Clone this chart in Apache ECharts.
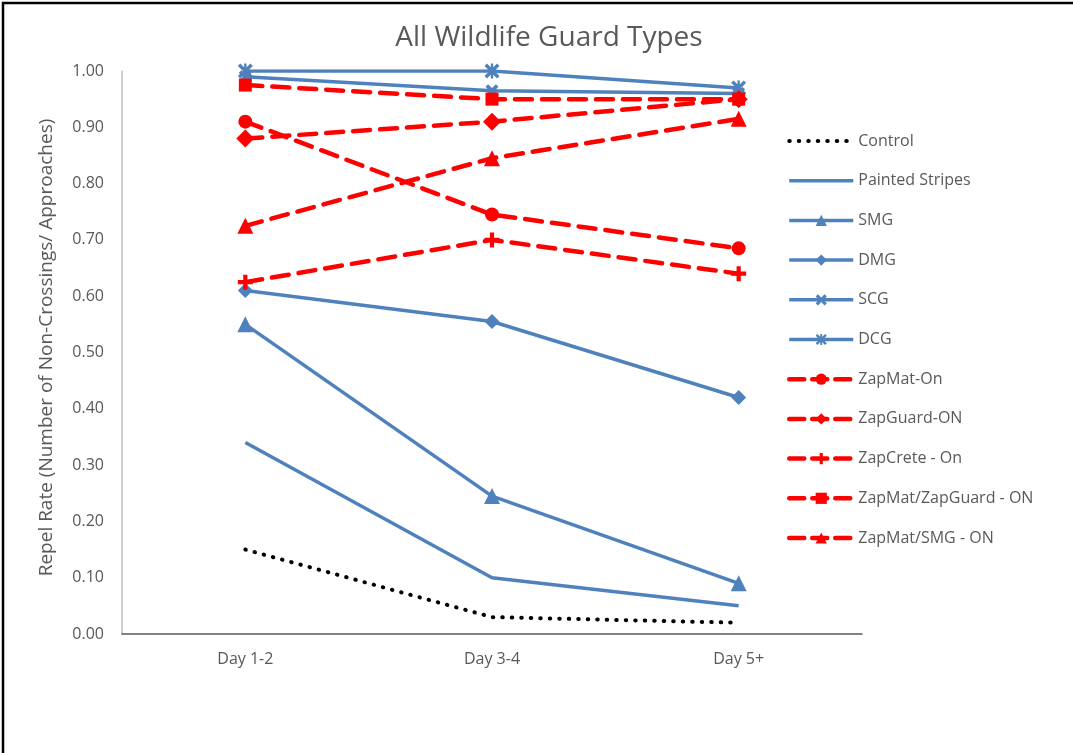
<!DOCTYPE html>
<html>
<head>
<meta charset="utf-8">
<script src="https://cdn.jsdelivr.net/npm/echarts@6/dist/echarts.min.js"></script>
<style>
  html, body { margin: 0; padding: 0; background: #fff; }
  #chart { width: 1073px; height: 753px; }
</style>
</head>
<body>
<div id="chart"></div>
<script>
// Observation periods
const days = ['Day 1-2', 'Day 3-4', 'Day 5+'];

// Repel rate per guard type
const control        = [0.15, 0.03, 0.02];
const paintedStripes = [0.34, 0.10, 0.05];
const smg            = [0.55, 0.245, 0.09];
const dmg            = [0.61, 0.555, 0.42];
const scg            = [0.99, 0.965, 0.96];
const dcg            = [1.00, 1.00, 0.97];
const zapMatOn       = [0.91, 0.745, 0.685];
const zapGuardOn     = [0.88, 0.91, 0.95];
const zapCreteOn     = [0.625, 0.70, 0.64];
const zapMatGuardOn  = [0.975, 0.95, 0.95];
const zapMatSmgOn    = [0.725, 0.845, 0.915];

const yTicks = ['0.00', '0.10', '0.20', '0.30', '0.40', '0.50', '0.60', '0.70', '0.80', '0.90', '1.00'];

const BLUE = '#4f81bd';
const RED = '#ff0000';
const GRAY_TEXT = '#595959';
const FONT = '"Open Sans", "Liberation Sans", sans-serif';

const PLUS = 'path://M3.6,0H6.4V3.6H10V6.4H6.4V10H3.6V6.4H0V3.6H3.6Z';
const XMARK = 'path://M0,2L2,0L5,3L8,0L10,2L7,5L10,8L8,10L5,7L2,10L0,8L3,5Z';
const STAR = 'path://M0,1.6L1.6,0L5,3.4L8.4,0L10,1.6L6.6,5L10,8.4L8.4,10L5,6.6L1.6,10L0,8.4L3.4,5ZM4.2,0H5.8V10H4.2Z';

function blueSeries(name, data, symbol, size) {
  return {
    name, type: 'line', data,
    symbol: symbol || 'none',
    symbolSize: size || 0,
    showSymbol: !!symbol,
    lineStyle: { color: BLUE, width: 3.5 },
    itemStyle: { color: BLUE },
    emphasis: { disabled: true }
  };
}

function redSeries(name, data, symbol, size) {
  return {
    name, type: 'line', data,
    symbol, symbolSize: size,
    lineStyle: { color: RED, width: 4.5, type: [17, 10], cap: 'round' },
    itemStyle: { color: RED },
    emphasis: { disabled: true }
  };
}

const blueKey = (name) => ({ name, lineStyle: { width: 3.5, color: BLUE } });
const redKey = (name) => ({ name, lineStyle: { width: 4.5, color: RED, type: [15, 8], cap: 'round' } });

const chart = echarts.init(document.getElementById('chart'), null, { renderer: 'canvas' });

chart.setOption({
  backgroundColor: '#fff',
  animation: false,
  title: {
    text: 'All Wildlife Guard Types',
    left: 544, top: 19, textAlign: 'center',
    textStyle: { color: GRAY_TEXT, fontSize: 28, fontWeight: 'normal', fontFamily: FONT }
  },
  graphic: [{
    type: 'rect', silent: true,
    shape: { x: 3, y: 3, width: 1200, height: 900 },
    style: { fill: 'none', stroke: '#000', lineWidth: 2.5 }
  }],
  legend: {
    orient: 'vertical',
    left: 787, top: 133, padding: 0,
    itemWidth: 64, itemHeight: 14, itemGap: 23.7,
    textStyle: { color: GRAY_TEXT, fontSize: 16, fontFamily: FONT },
    data: [
      { name: 'Control', itemStyle: { opacity: 0 },
        lineStyle: { width: 4, color: '#000', type: [0.5, 9], cap: 'round' } },
      { name: 'Painted Stripes', itemStyle: { opacity: 0 }, lineStyle: { width: 3.5, color: BLUE } },
      blueKey('SMG'), blueKey('DMG'), blueKey('SCG'), blueKey('DCG'),
      redKey('ZapMat-On'), redKey('ZapGuard-ON'), redKey('ZapCrete - On'),
      redKey('ZapMat/ZapGuard - ON'), redKey('ZapMat/SMG - ON')
    ]
  },
  grid: { left: 122, right: 211, top: 71, bottom: 119, containLabel: false },
  xAxis: {
    type: 'category', data: days, boundaryGap: true,
    axisLine: { lineStyle: { color: '#595959', width: 1.5 } },
    axisTick: { show: false },
    axisLabel: { color: GRAY_TEXT, fontSize: 16, fontFamily: FONT, margin: 17 }
  },
  yAxis: {
    type: 'value', min: 0, max: 1, interval: 0.1,
    name: 'Repel Rate (Number of Non-Crossings/ Approaches)',
    nameLocation: 'middle', nameRotate: 90, nameGap: 66,
    nameTextStyle: { color: GRAY_TEXT, fontSize: 19, fontFamily: FONT, padding: [0, 0, 0, 10] },
    axisLine: { show: true, lineStyle: { color: '#bfbfbf', width: 1.5 } },
    axisTick: { show: false },
    splitLine: { show: false },
    axisLabel: {
      color: GRAY_TEXT, fontSize: 16, fontFamily: FONT, margin: 18,
      formatter: (v) => yTicks[Math.round(v * 10)]
    }
  },
  series: [
    {
      name: 'Control', type: 'line', data: control,
      symbol: 'none', showSymbol: false,
      lineStyle: { color: '#000', width: 4, type: [0.5, 9], cap: 'round' },
      itemStyle: { color: '#000' },
      emphasis: { disabled: true }
    },
    blueSeries('Painted Stripes', paintedStripes),
    blueSeries('SMG', smg, 'triangle', 16),
    blueSeries('DMG', dmg, 'diamond', 15),
    blueSeries('SCG', scg, XMARK, 13),
    blueSeries('DCG', dcg, STAR, 15),
    redSeries('ZapMat-On', zapMatOn, 'circle', 14),
    redSeries('ZapGuard-ON', zapGuardOn, 'diamond', 18),
    redSeries('ZapCrete - On', zapCreteOn, PLUS, 15),
    redSeries('ZapMat/ZapGuard - ON', zapMatGuardOn, 'rect', 13),
    redSeries('ZapMat/SMG - ON', zapMatSmgOn, 'triangle', 16)
  ]
});
</script>
</body>
</html>
